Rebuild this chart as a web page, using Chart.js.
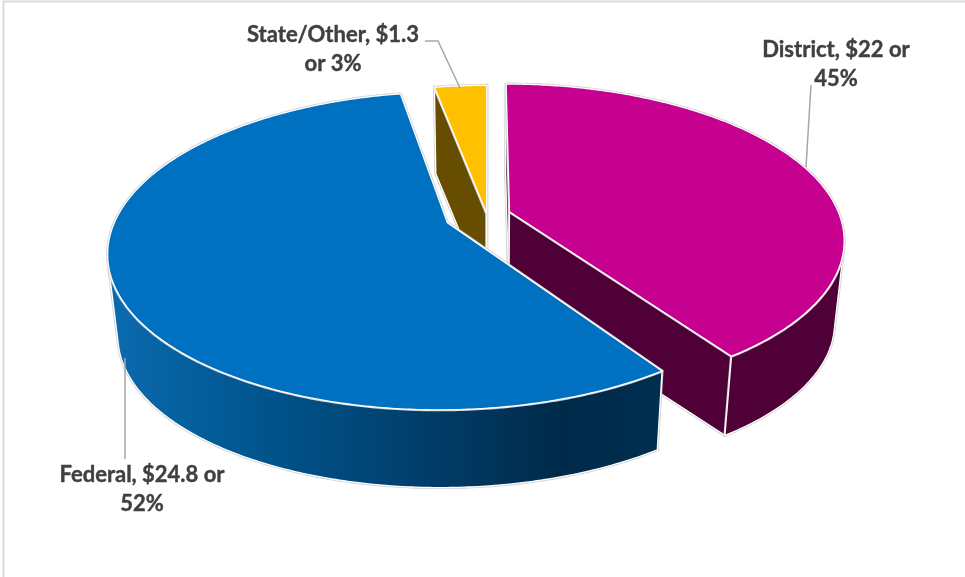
<!DOCTYPE html>
<html>
<head>
<meta charset="utf-8">
<title>Funding by source</title>
<script src="https://cdn.jsdelivr.net/npm/chart.js@4"></script>
<style>
  html, body { margin: 0; padding: 0; background: #fff; }
  canvas { display: block; }
</style>
</head>
<body>
<canvas id="myChart" width="965" height="577"></canvas>
<script>
const categories = ['District', 'Federal', 'State/Other'];
const amounts = [22, 24.8, 1.3];
const shares = [45, 52, 3];
const topColors = ['#C6008F', '#0070C0', '#FFC000'];
const wallColors = ['#4E0037', '#002D4D', '#664D00'];
const explode = [19.4, 35, 2.5];

// camera for the tilted disc
const view = { x: 487, y: 215, sx: 330, sy: 151.3, tilt: 0.176, depth: 83, shrink: 0.973, squeeze: 0.34 };

// where each caption sits and how its leader line runs
const captions = [
  { x: 836, y: 50, wrap: 1, leader: [[811, 85], [806, 167]] },
  { x: 142, y: 475, wrap: 1, leader: [[125, 358], [125, 459]] },
  { x: 333, y: 35, wrap: 0, leader: [[425, 41], [438, 41], [460, 88]] }
];

// unit disc point -> page position, level 0 is the top face, level 1 the bottom face
function project(px, py, level) {
  const d = 1 - view.tilt * py;
  const x = view.sx * px / d;
  const y = view.sy * py / d;
  if (!level) return [view.x + x, view.y + y];
  return [view.x + x * view.shrink, view.y + y * view.shrink + view.depth];
}

// angle round the disc, clockwise from the top, with the foreshortening of the view
function discAngle(chartAngle) {
  const t = chartAngle + Math.PI / 2;
  return t - view.squeeze * Math.pow(Math.abs(Math.sin(t / 2)), 1.2);
}

function tracePath(ctx, pts) {
  ctx.beginPath();
  pts.forEach((p, i) => (i ? ctx.lineTo(p[0], p[1]) : ctx.moveTo(p[0], p[1])));
  ctx.closePath();
}

function paint(ctx, pts, fill) {
  tracePath(ctx, pts);
  ctx.lineJoin = 'round';
  ctx.lineWidth = 3;
  ctx.strokeStyle = '#d2d2d2';
  ctx.stroke();
  ctx.fillStyle = fill;
  ctx.fill();
  ctx.lineWidth = 1.3;
  ctx.strokeStyle = '#ffffff';
  ctx.stroke();
}

// a wall only shows when its edge runs the right way against the drop to the bottom face
function facesViewer(from, to, fromLow) {
  const ex = fromLow[0] - from[0];
  const ey = fromLow[1] - from[1];
  return (to[0] - from[0]) * ey - (to[1] - from[1]) * ex < 0;
}

function drawSlice(ctx, arc, index) {
  const a = discAngle(arc.startAngle);
  const b = discAngle(arc.endAngle);
  const mid = (a + b) / 2;
  const e = arc.options.offset / arc.outerRadius;
  const ex = e * Math.sin(mid);
  const ey = -e * Math.cos(mid);

  const rim = [];
  const steps = Math.max(4, Math.ceil((b - a) * 90));
  for (let i = 0; i <= steps; i++) {
    const t = a + (b - a) * i / steps;
    rim.push([ex + Math.sin(t), ey - Math.cos(t)]);
  }
  const topRim = rim.map(p => project(p[0], p[1], 0));
  const lowRim = rim.map(p => project(p[0], p[1], 1));
  const apexTop = project(ex, ey, 0);
  const apexLow = project(ex, ey, 1);

  let wall = wallColors[index];
  if (index === 1) {
    wall = ctx.createLinearGradient(118, 0, 660, 0);
    wall.addColorStop(0, '#0B69AE');
    wall.addColorStop(0.25, '#00568F');
    wall.addColorStop(0.55, '#003F6C');
    wall.addColorStop(0.82, '#002A49');
    wall.addColorStop(1, '#002F50');
  }

  const last = rim.length - 1;
  if (facesViewer(apexTop, topRim[0], apexLow)) {
    paint(ctx, [apexTop, topRim[0], lowRim[0], apexLow], wall);
  }
  if (facesViewer(topRim[last], apexTop, lowRim[last])) {
    paint(ctx, [apexTop, topRim[last], lowRim[last], apexLow], wall);
  }

  // curved wall, front facing strips only
  let first = -1;
  let end = -1;
  for (let i = 0; i < last; i++) {
    if (facesViewer(topRim[i], topRim[i + 1], lowRim[i])) {
      if (first < 0) first = i;
      end = i + 1;
    }
  }
  if (first >= 0) {
    const front = topRim.slice(first, end + 1);
    const back = lowRim.slice(first, end + 1).reverse();
    paint(ctx, front.concat(back), wall);
  }

  paint(ctx, [apexTop].concat(topRim), arc.options.backgroundColor);
}

function drawCaption(ctx, i) {
  const c = captions[i];
  const amount = '$' + amounts[i];
  const pct = shares[i] + '%';
  const lines = c.wrap
    ? [categories[i] + ', ' + amount + ' or', pct]
    : [categories[i] + ', ' + amount, 'or ' + pct];

  ctx.font = 'bold 22px Lato';
  ctx.fillStyle = '#404040';
  ctx.strokeStyle = '#404040';
  ctx.lineWidth = 0.4;
  ctx.textAlign = 'center';
  ctx.textBaseline = 'middle';
  lines.forEach((line, n) => {
    ctx.fillText(line, c.x, c.y + n * 29);
    ctx.strokeText(line, c.x, c.y + n * 29);
  });

  ctx.beginPath();
  c.leader.forEach((p, n) => (n ? ctx.lineTo(p[0], p[1]) : ctx.moveTo(p[0], p[1])));
  ctx.lineWidth = 1.5;
  ctx.strokeStyle = '#a6a6a6';
  ctx.stroke();
}

// draws the arcs as a solid 3D pie from the angles Chart.js worked out
const solidPie = {
  id: 'solidPie',
  beforeDatasetDraw() {
    return false;
  },
  afterDatasetsDraw(chart) {
    const ctx = chart.ctx;
    const arcs = chart.getDatasetMeta(0).data;
    ctx.save();

    // chart frame
    ctx.beginPath();
    ctx.moveTo(3.5, 577);
    ctx.lineTo(3.5, 1.5);
    ctx.lineTo(965, 1.5);
    ctx.lineWidth = 2;
    ctx.strokeStyle = '#d9d9d9';
    ctx.stroke();

    // back to front
    [2, 0, 1].forEach(i => drawSlice(ctx, arcs[i], i));
    categories.forEach((name, i) => drawCaption(ctx, i));
    ctx.restore();
  }
};

new Chart(document.getElementById('myChart'), {
  type: 'pie',
  data: {
    labels: categories,
    datasets: [{
      data: amounts,
      backgroundColor: topColors,
      offset: explode,
      borderWidth: 0
    }]
  },
  options: {
    responsive: false,
    animation: false,
    layout: { padding: 0 },
    plugins: {
      legend: { display: false },
      tooltip: { enabled: false }
    }
  },
  plugins: [solidPie]
});
</script>
</body>
</html>
